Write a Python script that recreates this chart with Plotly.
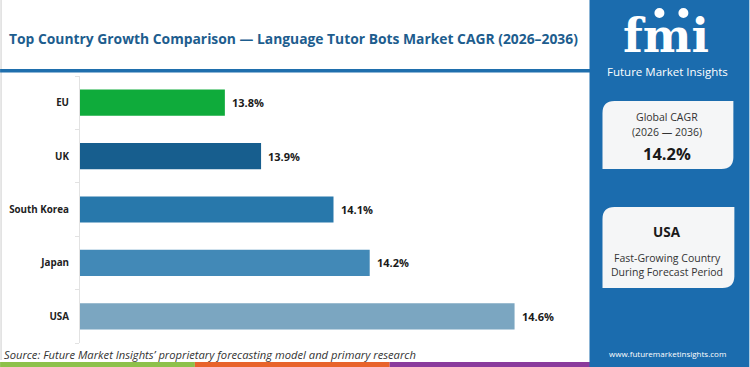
import plotly.graph_objects as go

# ---------------- data ----------------
countries = ["USA", "Japan", "South Korea", "UK", "EU"]
cagr = [14.6, 14.2, 14.1, 13.9, 13.8]
bar_colors = ["#7ba6c1", "#4289b7", "#2878ab", "#175e8e", "#0fab3b"]
value_labels = ["14.6%", "14.2%", "14.1%", "13.9%", "13.8%"]

title_text = "Top Country Growth Comparison \u2014 Language Tutor Bots Market CAGR (2026\u20132036)"
source_text = "Source: Future Market Insights\u2019 proprietary forecasting model and primary research"
global_cagr_label = ["Global CAGR", "(2026 \u2014 2036)"]
global_cagr_value = "14.2%"
top_country = "USA"
top_country_desc = ["Fast-Growing Country", "During Forecast Period"]
website = "www.futuremarketinsights.com"
strip_colors = ["#8dc14a", "#e8632b", "#8a3a9c"]

# ---------------- geometry ----------------
W, H = 750, 367
L, R_EDGE, T, B_EDGE = 80, 587.5, 76, 343
PW, PH = R_EDGE - L, B_EDGE - T


def px(x):
    return (x - L) / PW


def py(y):
    return (B_EDGE - y) / PH


PANEL = "#1b6cae"
FONT = "Open Sans"

fig = go.Figure()
fig.add_trace(go.Bar(
    y=countries, x=cagr, orientation="h",
    marker=dict(color=bar_colors, line=dict(width=0)),
    width=0.49, hoverinfo="skip",
))

shapes = []
# left light border
shapes.append(dict(type="line", xref="paper", yref="paper", x0=px(1), x1=px(1), y0=py(0), y1=py(360),
                   line=dict(color="#dddddd", width=1.5), layer="below"))
# blue rule under title
shapes.append(dict(type="rect", xref="paper", yref="paper", x0=px(0), x1=px(591), y0=py(69), y1=py(72.5),
                   fillcolor="#1f6fad", line=dict(width=0)))
# bottom strips
edges = [0, 195, 390, 591]
for i, c in enumerate(strip_colors):
    shapes.append(dict(type="rect", xref="paper", yref="paper", x0=px(edges[i]), x1=px(edges[i + 1]),
                       y0=py(362), y1=py(367), fillcolor=c, line=dict(width=0)))
# right panel
shapes.append(dict(type="rect", xref="paper", yref="paper", x0=px(590), x1=px(750), y0=py(0), y1=py(367),
                   fillcolor=PANEL, line=dict(width=0)))


def card(x0, y0, x1, y1, r=12):
    # rounded top-left and bottom-right corners
    p = (f"M {px(x0)},{py(y0 + r)} Q {px(x0)},{py(y0)} {px(x0 + r)},{py(y0)} "
         f"L {px(x1)},{py(y0)} L {px(x1)},{py(y1 - r)} Q {px(x1)},{py(y1)} {px(x1 - r)},{py(y1)} "
         f"L {px(x0)},{py(y1)} Z")
    return dict(type="path", xref="paper", yref="paper", path=p, fillcolor="#f5f6f7", line=dict(width=0))


shapes.append(card(603, 101, 734, 169))
shapes.append(card(603, 207, 735, 288))
# small globes of the logo
for cx in [660, 684]:
    shapes.append(dict(type="circle", xref="paper", yref="paper", x0=px(cx - 5), x1=px(cx + 5),
                       y0=py(8), y1=py(18), fillcolor="white", line=dict(width=0)))

annotations = []


def ann(text, x, y, size, color, weight="normal", xanchor="center", family=FONT, style="normal"):
    annotations.append(dict(text=text, x=px(x), y=py(y), xref="paper", yref="paper", showarrow=False,
                            xanchor=xanchor, yanchor="middle",
                            font=dict(family=family, size=size, color=color, weight=weight, style=style)))


# value labels at bar ends
for c, v, lab in zip(countries, cagr, value_labels):
    annotations.append(dict(text=lab, x=v, y=c, xref="x", yref="y", showarrow=False,
                            xanchor="left", yanchor="middle", xshift=5,
                            font=dict(family=FONT, size=11, color="#1a1a1a", weight="bold")))

ann(title_text, 7, 38, 13.85, "#1d5d8e", "bold", "left")
ann(source_text, 2, 354, 11.2, "#333333", "normal", "left", style="italic")
ann("fmi", 667, 36, 46, "white", "bold", family="DejaVu Serif")
ann("Future Market Insights", 668, 72, 11.5, "white")
ann(global_cagr_label[0], 668, 117, 10.5, "#333333")
ann(global_cagr_label[1], 668, 132, 10.5, "#333333")
ann(global_cagr_value, 668, 153, 16.5, "#1a1a1a", "bold")
ann(top_country, 668, 232, 13.5, "#1a1a1a", "bold")
ann(top_country_desc[0], 668, 258, 10.5, "#333333")
ann(top_country_desc[1], 668, 272, 10.5, "#333333")
ann(website, 668, 353, 8, "white")

fig.update_layout(
    width=W, height=H,
    margin=dict(l=L, r=W - R_EDGE, t=T, b=H - B_EDGE, autoexpand=False),
    paper_bgcolor="white", plot_bgcolor="white",
    showlegend=False,
    shapes=shapes, annotations=annotations,
    xaxis=dict(range=[13.4, 14.8], visible=False, showgrid=False, zeroline=False, automargin=False),
    yaxis=dict(categoryorder="array", categoryarray=countries, showgrid=False, zeroline=False,
               automargin=False,
               showline=True, linecolor="#e2e2e2", linewidth=1,
               ticks="outside", tickson="boundaries", ticklen=4, tickcolor="#e2e2e2",
               tickfont=dict(family=FONT, size=9.8, color="#222222", weight="bold"),
               ticklabelstandoff=8),
    font=dict(family=FONT),
)

fig.write_html("out.html")
